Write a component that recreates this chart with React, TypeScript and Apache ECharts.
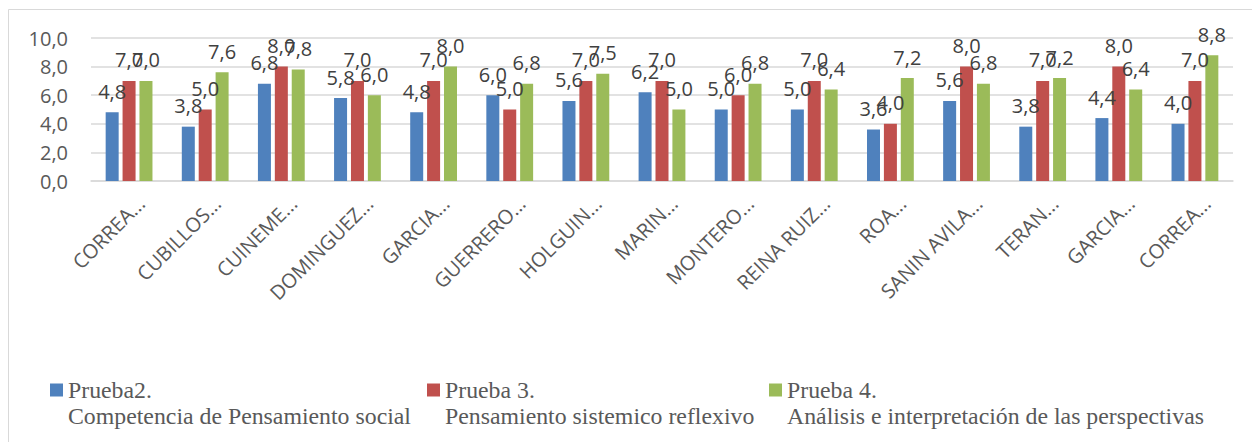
import React, { useEffect, useRef } from "react";
import * as echarts from "echarts";

const categories = [
  "CORREA...", "CUBILLOS...", "CUINEME...", "DOMINGUEZ...", "GARCIA...",
  "GUERRERO...", "HOLGUIN...", "MARIN...", "MONTERO...", "REINA RUIZ...",
  "ROA...", "SANIN AVILA...", "TERAN...", "GARCIA...", "CORREA...",
];
const prueba2 = [4.8, 3.8, 6.8, 5.8, 4.8, 6.0, 5.6, 6.2, 5.0, 5.0, 3.6, 5.6, 3.8, 4.4, 4.0];
const prueba3 = [7.0, 5.0, 8.0, 7.0, 7.0, 5.0, 7.0, 7.0, 6.0, 7.0, 4.0, 8.0, 7.0, 8.0, 7.0];
const prueba4 = [7.0, 7.6, 7.8, 6.0, 8.0, 6.8, 7.5, 5.0, 6.8, 6.4, 7.2, 6.8, 7.2, 6.4, 8.8];

const seriesTitles = ["Prueba2.", "Prueba 3.", "Prueba 4."];
const seriesSubtitles = [
  "Competencia de Pensamiento social",
  "Pensamiento sistemico reflexivo",
  "Análisis e interpretación de las perspectivas",
];
const seriesColors = ["#4f81bd", "#c0504d", "#9bbb59"];
const seriesValues = [prueba2, prueba3, prueba4];

const yMin = 0;
const yMax = 10;
const yInterval = 2;

const fmt = (v: number) => Number(v).toFixed(1).replace(".", ",");

export default function App() {
  const ref = useRef<HTMLDivElement>(null);
  useEffect(() => {
    if (!ref.current) return;
    const chart = echarts.init(ref.current, undefined, { renderer: "svg" });
    const names = seriesTitles.map((t, i) => t + " " + seriesSubtitles[i]);
    const legendLefts = [50, 427, 769];
    chart.setOption({
      animation: false,
      backgroundColor: "#ffffff",
      grid: { left: 91, right: 19, top: 38, bottom: 261, containLabel: false },
      xAxis: {
        type: "category",
        data: categories,
        axisLine: { show: true, lineStyle: { color: "#d9d9d9", width: 1.5 } },
        axisTick: { show: false },
        axisLabel: {
          interval: 0,
          rotate: 45,
          margin: 31,
          padding: [0, -17, 0, 0],
          color: "#595959",
          fontSize: 20,
          fontFamily: "Open Sans",
        },
      },
      yAxis: {
        type: "value",
        min: yMin,
        max: yMax,
        interval: yInterval,
        axisLine: { show: false },
        axisTick: { show: false },
        splitLine: { lineStyle: { color: "#d9d9d9", width: 1.5 } },
        axisLabel: {
          margin: 23,
          color: "#595959",
          fontSize: 20,
          fontFamily: "Open Sans",
          formatter: (v: number) => fmt(v),
        },
      },
      legend: names.map((n, i) => ({
        data: [n],
        left: legendLefts[i],
        top: 351,
        padding: 0,
        icon: "rect",
        itemWidth: 13,
        itemHeight: 13,
        itemGap: 5,
        selectedMode: false,
        formatter: () => "\n" + seriesTitles[i] + "\n" + seriesSubtitles[i],
        textStyle: {
          color: "#595959",
          fontSize: 23.8,
          lineHeight: 26,
          fontFamily: "Liberation Serif",
        },
      })),
      series: seriesValues.map((vals, i) => ({
        type: "bar",
        name: names[i],
        data: vals,
        barWidth: 13,
        barGap: "30%",
        itemStyle: { color: seriesColors[i] },
        label: {
          show: true,
          position: "top",
          distance: 11,
          color: "#404040",
          fontSize: 20,
          fontFamily: "Open Sans",
          formatter: (p: any) => fmt(p.value),
        },
      })),
      graphic: [
        {
          type: "rect",
          shape: { x: 8.5, y: 9.5, width: 1400, height: 600 },
          style: { fill: "none", stroke: "#d9d9d9", lineWidth: 1 },
          silent: true,
        },
      ],
    });
    return () => chart.dispose();
  }, []);
  return (
    <div
      ref={ref}
      style={{ position: "absolute", left: 0, top: 0, width: 1252, height: 442 }}
    />
  );
}
